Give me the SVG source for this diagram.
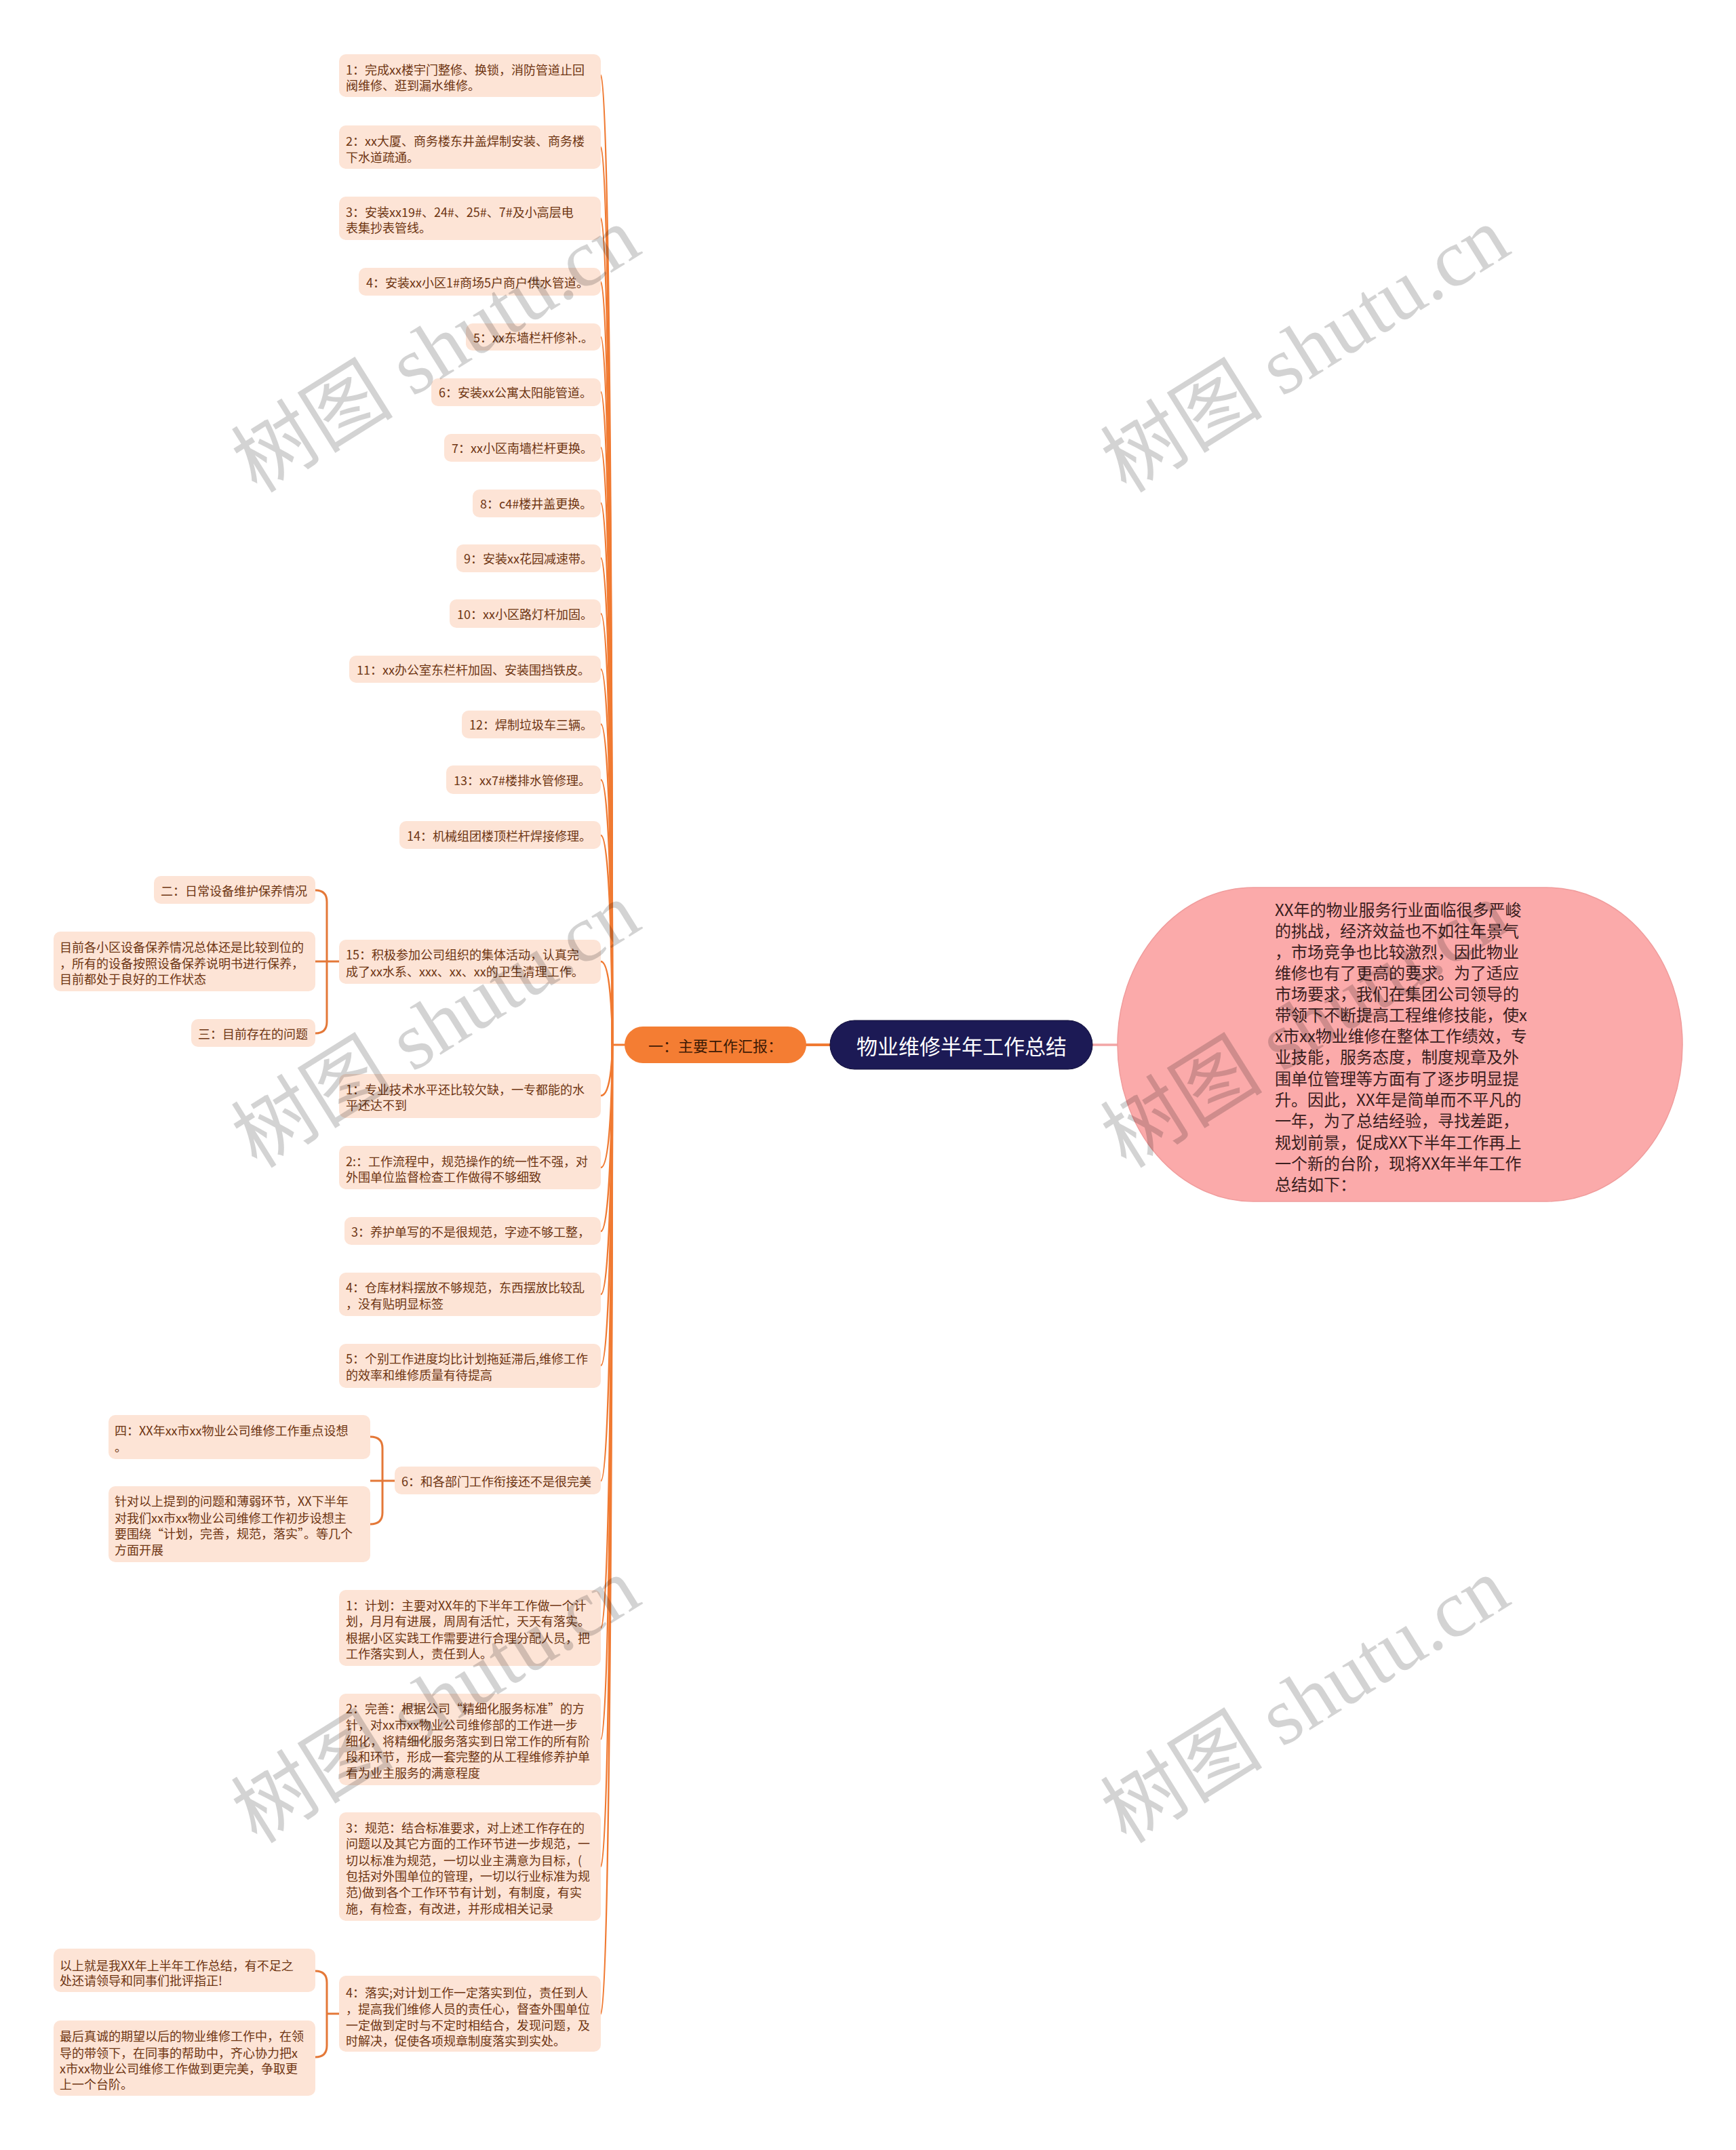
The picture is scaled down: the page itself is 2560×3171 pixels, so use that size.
<svg xmlns="http://www.w3.org/2000/svg" width="2560" height="3171" viewBox="0 0 2560 3171">
<style>
.bx{fill:#FDE4D6}
.t{font-family:"Noto Sans CJK SC","Liberation Sans",sans-serif;font-size:18px;fill:#6E3512;dominant-baseline:central}
.c{fill:none;stroke:#F07A32;stroke-width:2.5}
.br{fill:none;stroke:#E47838;stroke-width:3}
.wm{font-family:"Liberation Serif","Noto Sans CJK SC",serif;font-size:120px;fill:#000;opacity:0.17;text-anchor:middle;dominant-baseline:central}
</style>
<rect x="0" y="0" width="2560" height="3171" fill="#FFFFFF"/>
<g id="connectors">
<path class="c" d="M886,111 C903,111 903,1541 903,1541"/>
<path class="c" d="M886,217 C903,217 903,1541 903,1541"/>
<path class="c" d="M886,322 C903,322 903,1541 903,1541"/>
<path class="c" d="M886,416 C903,416 903,1541 903,1541"/>
<path class="c" d="M886,497 C903,497 903,1541 903,1541"/>
<path class="c" d="M886,578 C903,578 903,1541 903,1541"/>
<path class="c" d="M886,660 C903,660 903,1541 903,1541"/>
<path class="c" d="M886,742 C903,742 903,1541 903,1541"/>
<path class="c" d="M886,823 C903,823 903,1541 903,1541"/>
<path class="c" d="M886,905 C903,905 903,1541 903,1541"/>
<path class="c" d="M886,987 C903,987 903,1541 903,1541"/>
<path class="c" d="M886,1068 C903,1068 903,1541 903,1541"/>
<path class="c" d="M886,1150 C903,1150 903,1541 903,1541"/>
<path class="c" d="M886,1232 C903,1232 903,1541 903,1541"/>
<path class="c" d="M886,1418 C903,1418 903,1541 903,1541"/>
<path class="c" d="M886,1616 C903,1616 903,1541 903,1541"/>
<path class="c" d="M886,1722 C903,1722 903,1541 903,1541"/>
<path class="c" d="M886,1816 C903,1816 903,1541 903,1541"/>
<path class="c" d="M886,1909 C903,1909 903,1541 903,1541"/>
<path class="c" d="M886,2014 C903,2014 903,1541 903,1541"/>
<path class="c" d="M886,2184 C903,2184 903,1541 903,1541"/>
<path class="c" d="M886,2401 C903,2401 903,1541 903,1541"/>
<path class="c" d="M886,2565 C903,2565 903,1541 903,1541"/>
<path class="c" d="M886,2753 C903,2753 903,1541 903,1541"/>
<path class="c" d="M886,2970 C903,2970 903,1541 903,1541"/>
<path fill="none" stroke="#F07A32" stroke-width="3" d="M902,1541 L922,1541"/>
<path fill="none" stroke="#F07A32" stroke-width="4" d="M1188,1541 L1225,1541"/>
<path fill="none" stroke="#F2A6A6" stroke-width="3.5" d="M1611,1541 L1649,1541"/>
<path class="br" d="M500,1418 L465,1418 M465,1313 Q482,1313 482,1330 L482,1507 Q482,1524 465,1524"/>
<path class="br" d="M582,2184 L546,2184 M546,2119 Q564,2119 564,2136 L564,2231 Q564,2248 546,2248"/>
<path class="br" d="M500,2970 L482,2970 M465,2907 Q482,2907 482,2924 L482,3017 Q482,3034 465,3034"/>
</g>
<g id="root">
<rect x="1224" y="1505" width="387" height="72" rx="36" fill="#1C1A55" stroke="#0E0C38" stroke-width="1"/>
<text x="1418" y="1541" text-anchor="middle" font-family="Noto Sans CJK SC, sans-serif" font-size="31" fill="#FFFFFF" dominant-baseline="central">物业维修半年工作总结</text>
</g>
<g id="intro">
<rect x="1648" y="1309" width="833" height="463" rx="200" ry="231" fill="#FBAAAA" stroke="#F09C9C" stroke-width="1.5"/>
<g font-family="Noto Sans CJK SC, sans-serif" font-size="24" fill="#3A2020" dominant-baseline="central">
<text x="1880" y="1340">XX年的物业服务行业面临很多严峻</text>
<text x="1880" y="1371">的挑战，经济效益也不如往年景气</text>
<text x="1880" y="1402">，市场竞争也比较激烈，因此物业</text>
<text x="1880" y="1433">维修也有了更高的要求。为了适应</text>
<text x="1880" y="1464">市场要求，我们在集团公司领导的</text>
<text x="1880" y="1495">带领下不断提高工程维修技能，使x</text>
<text x="1880" y="1526">x市xx物业维修在整体工作绩效，专</text>
<text x="1880" y="1557">业技能，服务态度，制度规章及外</text>
<text x="1880" y="1589">围单位管理等方面有了逐步明显提</text>
<text x="1880" y="1620">升。因此，XX年是简单而不平凡的</text>
<text x="1880" y="1651">一年，为了总结经验，寻找差距，</text>
<text x="1880" y="1683">规划前景，促成XX下半年工作再上</text>
<text x="1880" y="1714">一个新的台阶，现将XX年半年工作</text>
<text x="1880" y="1745">总结如下：</text>
</g>
</g>
<g id="main">
<rect x="921" y="1514" width="268" height="54" rx="27" fill="#F47D33"/>
<text x="1055" y="1541" text-anchor="middle" font-family="Noto Sans CJK SC, sans-serif" font-size="22" fill="#3D1A05" dominant-baseline="central">一：主要工作汇报：</text>
</g>
<g id="n1"><rect class="bx" x="500" y="80" width="386" height="63" rx="10"/><text class="t" x="510" y="102">1：完成xx楼宇门整修、换锁，消防管道止回</text><text class="t" x="510" y="125">阀维修、逛到漏水维修。</text></g>
<g id="n2"><rect class="bx" x="500" y="185" width="386" height="64" rx="10"/><text class="t" x="510" y="207">2：xx大厦、商务楼东井盖焊制安装、商务楼</text><text class="t" x="510" y="231">下水道疏通。</text></g>
<g id="n3"><rect class="bx" x="500" y="290" width="386" height="64" rx="10"/><text class="t" x="510" y="312">3：安装xx19#、24#、25#、7#及小高层电</text><text class="t" x="510" y="335">表集抄表管线。</text></g>
<g id="n4"><rect class="bx" x="529" y="395" width="357" height="41" rx="10"/><text class="t" x="540" y="416">4：安装xx小区1#商场5户商户供水管道。</text></g>
<g id="n5"><rect class="bx" x="687" y="477" width="199" height="40" rx="10"/><text class="t" x="698" y="497">5：xx东墙栏杆修补.。</text></g>
<g id="n6"><rect class="bx" x="636" y="558" width="250" height="41" rx="10"/><text class="t" x="647" y="578">6：安装xx公寓太阳能管道。</text></g>
<g id="n7"><rect class="bx" x="655" y="640" width="231" height="41" rx="10"/><text class="t" x="666" y="660">7：xx小区南墙栏杆更换。</text></g>
<g id="n8"><rect class="bx" x="697" y="722" width="189" height="41" rx="10"/><text class="t" x="708" y="742">8：c4#楼井盖更换。</text></g>
<g id="n9"><rect class="bx" x="673" y="803" width="213" height="41" rx="10"/><text class="t" x="684" y="823">9：安装xx花园减速带。</text></g>
<g id="n10"><rect class="bx" x="663" y="884" width="223" height="42" rx="10"/><text class="t" x="674" y="905">10：xx小区路灯杆加固。</text></g>
<g id="n11"><rect class="bx" x="515" y="967" width="371" height="40" rx="10"/><text class="t" x="526" y="987">11：xx办公室东栏杆加固、安装围挡铁皮。</text></g>
<g id="n12"><rect class="bx" x="681" y="1048" width="205" height="41" rx="10"/><text class="t" x="692" y="1068">12：焊制垃圾车三辆。</text></g>
<g id="n13"><rect class="bx" x="658" y="1129" width="228" height="42" rx="10"/><text class="t" x="669" y="1150">13：xx7#楼排水管修理。</text></g>
<g id="n14"><rect class="bx" x="589" y="1211" width="297" height="41" rx="10"/><text class="t" x="600" y="1232">14：机械组团楼顶栏杆焊接修理。</text></g>
<g id="n15"><rect class="bx" x="500" y="1386" width="386" height="65" rx="10"/><text class="t" x="510" y="1407">15：积极参加公司组织的集体活动，认真完</text><text class="t" x="510" y="1432">成了xx水系、xxx、xx、xx的卫生清理工作。</text></g>
<g id="s2"><rect class="bx" x="227" y="1292" width="238" height="41" rx="10"/><text class="t" x="237" y="1313">二：日常设备维护保养情况</text></g>
<g id="s2d"><rect class="bx" x="79" y="1374" width="386" height="88" rx="10"/><text class="t" x="88" y="1396">目前各小区设备保养情况总体还是比较到位的</text><text class="t" x="88" y="1420">，所有的设备按照设备保养说明书进行保养，</text><text class="t" x="88" y="1443">目前都处于良好的工作状态</text></g>
<g id="s3"><rect class="bx" x="282" y="1503" width="183" height="41" rx="10"/><text class="t" x="292" y="1524">三：目前存在的问题</text></g>
<g id="p1"><rect class="bx" x="500" y="1584" width="386" height="65" rx="10"/><text class="t" x="510" y="1606">1：专业技术水平还比较欠缺，一专都能的水</text><text class="t" x="510" y="1629">平还达不到</text></g>
<g id="p2"><rect class="bx" x="500" y="1690" width="386" height="64" rx="10"/><text class="t" x="510" y="1712">2:：工作流程中，规范操作的统一性不强，对</text><text class="t" x="510" y="1735">外围单位监督检查工作做得不够细致</text></g>
<g id="p3"><rect class="bx" x="508" y="1795" width="378" height="41" rx="10"/><text class="t" x="518" y="1816">3：养护单写的不是很规范，字迹不够工整，</text></g>
<g id="p4"><rect class="bx" x="500" y="1877" width="386" height="64" rx="10"/><text class="t" x="510" y="1898">4：仓库材料摆放不够规范，东西摆放比较乱</text><text class="t" x="510" y="1922">，没有贴明显标签</text></g>
<g id="p5"><rect class="bx" x="500" y="1982" width="386" height="65" rx="10"/><text class="t" x="510" y="2003">5：个别工作进度均比计划拖延滞后,维修工作</text><text class="t" x="510" y="2027">的效率和维修质量有待提高</text></g>
<g id="p6"><rect class="bx" x="582" y="2163" width="304" height="41" rx="10"/><text class="t" x="592" y="2184">6：和各部门工作衔接还不是很完美</text></g>
<g id="s4"><rect class="bx" x="160" y="2087" width="386" height="65" rx="10"/><text class="t" x="169" y="2109">四：XX年xx市xx物业公司维修工作重点设想</text><text class="t" x="169" y="2133">。</text></g>
<g id="s4d"><rect class="bx" x="160" y="2192" width="386" height="112" rx="10"/><text class="t" x="169" y="2213">针对以上提到的问题和薄弱环节，XX下半年</text><text class="t" x="169" y="2238">对我们xx市xx物业公司维修工作初步设想主</text><text class="t" x="169" y="2261">要围绕“计划，完善，规范，落实”。等几个</text><text class="t" x="169" y="2285">方面开展</text></g>
<g id="q1"><rect class="bx" x="500" y="2345" width="386" height="112" rx="10"/><text class="t" x="510" y="2367">1：计划：主要对XX年的下半年工作做一个计</text><text class="t" x="510" y="2390">划，月月有进展，周周有活忙，天天有落实。</text><text class="t" x="510" y="2415">根据小区实践工作需要进行合理分配人员，把</text><text class="t" x="510" y="2438">工作落实到人，责任到人。</text></g>
<g id="q2"><rect class="bx" x="500" y="2498" width="386" height="135" rx="10"/><text class="t" x="510" y="2519">2：完善：根据公司“精细化服务标准”的方</text><text class="t" x="510" y="2543">针，对xx市xx物业公司维修部的工作进一步</text><text class="t" x="510" y="2567">细化，将精细化服务落实到日常工作的所有阶</text><text class="t" x="510" y="2590">段和环节，形成一套完整的从工程维修养护单</text><text class="t" x="510" y="2614">看为业主服务的满意程度</text></g>
<g id="q3"><rect class="bx" x="500" y="2673" width="386" height="160" rx="10"/><text class="t" x="510" y="2695">3：规范：结合标准要求，对上述工作存在的</text><text class="t" x="510" y="2718">问题以及其它方面的工作环节进一步规范，一</text><text class="t" x="510" y="2743">切以标准为规范，一切以业主满意为目标，(</text><text class="t" x="510" y="2766">包括对外围单位的管理，一切以行业标准为规</text><text class="t" x="510" y="2790">范)做到各个工作环节有计划，有制度，有实</text><text class="t" x="510" y="2814">施，有检查，有改进，并形成相关记录</text></g>
<g id="q4"><rect class="bx" x="500" y="2914" width="386" height="112" rx="10"/><text class="t" x="510" y="2938">4：落实;对计划工作一定落实到位，责任到人</text><text class="t" x="510" y="2962">，提高我们维修人员的责任心，督查外围单位</text><text class="t" x="510" y="2986">一定做到定时与不定时相结合，发现问题，及</text><text class="t" x="510" y="3009">时解决，促使各项规章制度落实到实处。</text></g>
<g id="e1"><rect class="bx" x="79" y="2874" width="386" height="64" rx="10"/><text class="t" x="88" y="2898">以上就是我XX年上半年工作总结，有不足之</text><text class="t" x="88" y="2920">处还请领导和同事们批评指正!</text></g>
<g id="e2"><rect class="bx" x="79" y="2980" width="386" height="111" rx="10"/><text class="t" x="88" y="3002">最后真诚的期望以后的物业维修工作中，在领</text><text class="t" x="88" y="3027">导的带领下，在同事的帮助中，齐心协力把x</text><text class="t" x="88" y="3050">x市xx物业公司维修工作做到更完美，争取更</text><text class="t" x="88" y="3073">上一个台阶。</text></g>
<g id="watermarks">
<text class="wm" transform="translate(643,516) rotate(-32)">树图 shutu.cn</text>
<text class="wm" transform="translate(1925,516) rotate(-32)">树图 shutu.cn</text>
<text class="wm" transform="translate(643,1512) rotate(-32)">树图 shutu.cn</text>
<text class="wm" transform="translate(1925,1512) rotate(-32)">树图 shutu.cn</text>
<text class="wm" transform="translate(643,2508) rotate(-32)">树图 shutu.cn</text>
<text class="wm" transform="translate(1925,2508) rotate(-32)">树图 shutu.cn</text>
</g>
</svg>
